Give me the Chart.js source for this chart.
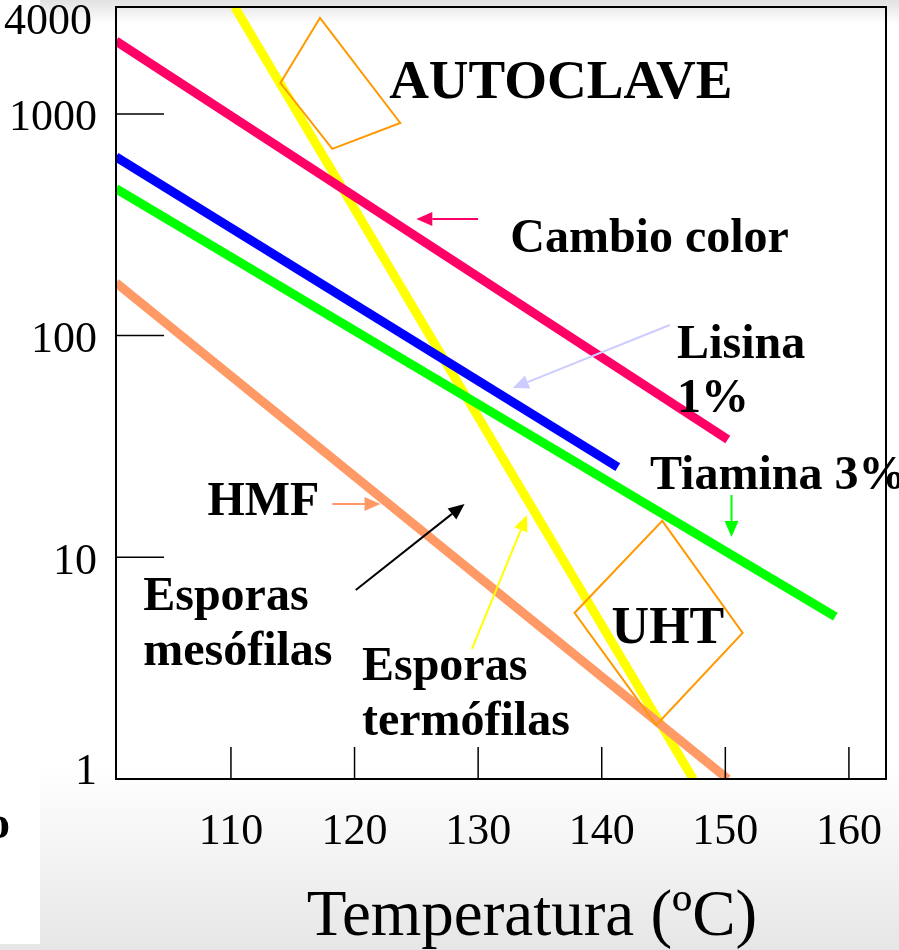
<!DOCTYPE html>
<html>
<head>
<meta charset="utf-8">
<script src="https://cdn.jsdelivr.net/npm/chart.js@4"></script>
<style>
  body { margin: 0; background: #fff; }
  #wrap { position: relative; width: 899px; height: 950px; overflow: hidden; }
  .band { position: absolute; left: 40px; right: 0; }
  #top { top: 0; height: 24px; background: linear-gradient(#e2e2e2, #fff); }
  #bottom { top: 768px; bottom: 0; background: linear-gradient(#fff, #e6e6e6); }
  #foot { position: absolute; left: 0; width: 40px; top: 944px; bottom: 0; background: #e6e6e6; }
  #box { position: absolute; left: 0; top: 0; width: 899px; height: 950px; }
</style>
</head>
<body>
<div id="wrap">
  <div class="band" id="top"></div>
  <div class="band" id="bottom"></div>
  <div id="foot"></div>
  <div id="box"><canvas id="chart-lines"></canvas></div>
</div>
<script>
// ticks
var xTicks = [110, 120, 130, 140, 150, 160];
var yTicks = [1, 10, 100, 1000];
var yTopLabel = "4000";
var xTitle = "Temperatura (ºC)";

// each line: temperatures (ºC) and times at its two ends
var cambioT = [100.7, 150.2];
var cambioVal = [2130, 34];
var lisinaT = [100.7, 141.3];
var lisinaVal = [640, 25.5];
var tiaminaT = [100.7, 158.9];
var tiaminaVal = [460, 5.4];
var hmfT = [100.7, 150.2];
var hmfVal = [173, 1];
var termoT = [110.3, 147.4];
var termoVal = [3035, 1];

function pts(t, v) {
  return t.map(function (x, i) { return { x: x, y: v[i] }; });
}

// annotations, placed in data units (ºC, tiempo)
var notes = [
  { text: "AUTOCLAVE", at: [122.8, 1179], size: 55 },
  { text: "Cambio color", at: [132.6, 238], size: 48 },
  { text: "Lisina", at: [146.1, 79], size: 48 },
  { text: "1%", at: [146.1, 45.2], size: 48 },
  { text: "Tiamina 3%", at: [143.9, 20.3], size: 48 },
  { text: "HMF", at: [108.1, 15.5], size: 48 },
  { text: "Esporas", at: [102.9, 5.78], size: 48 },
  { text: "mesófilas", at: [102.9, 3.27], size: 48 },
  { text: "Esporas", at: [120.6, 2.8], size: 48 },
  { text: "termófilas", at: [120.6, 1.58], size: 48 },
  { text: "UHT", at: [140.8, 4.11], size: 52 },
];
var arrows = [
  { from: [130.0, 336], to: [125.0, 336], color: "#ff0066" },
  { from: [145.5, 111.6], to: [132.8, 58], color: "#ccccff" },
  { from: [150.5, 19.1], to: [150.5, 12.35], color: "#00ff00" },
  { from: [118.2, 17.4], to: [122.1, 17.4], color: "#ff9966" },
  { from: [120.1, 7.12], to: [128.9, 17.4], color: "#000000" },
  { from: [129.5, 3.86], to: [133.95, 15.5], color: "#ffff00" },
];
var diamonds = [
  [[117.2, 2709], [123.7, 910], [118.2, 695], [114.0, 1378]],
  [[144.9, 14.6], [151.4, 4.56], [144.4, 1.75], [137.8, 5.61]],
];

function px(chart, p) {
  return [chart.scales.x.getPixelForValue(p[0]), chart.scales.y.getPixelForValue(p[1])];
}

function drawArrow(ctx, a, b, color) {
  var ang = Math.atan2(b[1] - a[1], b[0] - a[0]);
  var hl = 16, hw = 7;
  var c = Math.cos(ang), s = Math.sin(ang);
  ctx.strokeStyle = color;
  ctx.fillStyle = color;
  ctx.lineWidth = 2;
  ctx.beginPath();
  ctx.moveTo(a[0], a[1]);
  ctx.lineTo(b[0] - hl * c, b[1] - hl * s);
  ctx.stroke();
  ctx.beginPath();
  ctx.moveTo(b[0], b[1]);
  ctx.lineTo(b[0] - hl * c + hw * s, b[1] - hl * s - hw * c);
  ctx.lineTo(b[0] - hl * c - hw * s, b[1] - hl * s + hw * c);
  ctx.closePath();
  ctx.fill();
}

var serif = '"Liberation Serif", "Times New Roman", serif';

var decor = {
  id: "decor",
  afterDatasetsDraw: function (chart) {
    var ctx = chart.ctx;
    var a = chart.chartArea;
    var xs = chart.scales.x, ys = chart.scales.y;
    ctx.save();

    // frame
    ctx.strokeStyle = "#000";
    ctx.lineWidth = 2;
    ctx.strokeRect(a.left, a.top, a.right - a.left, a.bottom - a.top);

    // inner ticks
    ctx.lineWidth = 1.5;
    yTicks.forEach(function (v) {
      if (v === ys.min) return;
      var y = ys.getPixelForValue(v);
      ctx.beginPath(); ctx.moveTo(a.left, y); ctx.lineTo(a.left + 48, y); ctx.stroke();
    });
    xTicks.forEach(function (v) {
      var x = xs.getPixelForValue(v);
      ctx.beginPath(); ctx.moveTo(x, a.bottom); ctx.lineTo(x, a.bottom - 32); ctx.stroke();
    });

    // y labels
    ctx.fillStyle = "#000";
    ctx.font = "44px " + serif;
    ctx.textAlign = "right";
    ctx.textBaseline = "middle";
    yTicks.forEach(function (v) {
      var y = ys.getPixelForValue(v);
      ctx.fillText(String(v), a.left - 19, v === ys.min ? y - 7 : y + 5);
    });
    ctx.fillText(yTopLabel, a.left - 24, ys.getPixelForValue(ys.max) + 15);

    // x axis title, sits a bit right of centre in the original
    ctx.textAlign = "center";
    ctx.textBaseline = "alphabetic";
    ctx.font = "65px " + serif;
    ctx.fillText(xTitle, (a.left + a.right) / 2 + 31, xs.bottom - 15);

    // diamonds
    ctx.strokeStyle = "#ff9900";
    ctx.lineWidth = 2;
    diamonds.forEach(function (d) {
      ctx.beginPath();
      d.forEach(function (p, i) {
        var q = px(chart, p);
        if (i === 0) ctx.moveTo(q[0], q[1]); else ctx.lineTo(q[0], q[1]);
      });
      ctx.closePath();
      ctx.stroke();
    });

    // arrows
    arrows.forEach(function (ar) {
      drawArrow(ctx, px(chart, ar.from), px(chart, ar.to), ar.color);
    });

    // labels
    ctx.fillStyle = "#000";
    ctx.textAlign = "left";
    ctx.textBaseline = "alphabetic";
    notes.forEach(function (n) {
      var q = px(chart, n.at);
      ctx.font = "bold " + n.size + "px " + serif;
      ctx.fillText(n.text, q[0], q[1]);
    });

    // cut-off letter at the left edge
    ctx.font = "bold 46px " + serif;
    ctx.fillText("o", -13, 838);
    ctx.restore();
  },
};

var ctx = document.getElementById("chart-lines").getContext("2d");

new Chart(ctx, {
  type: "line",
  data: {
    datasets: [
      { label: "Cambio color", data: pts(cambioT, cambioVal), borderColor: "#ff0066", order: 1 },
      { label: "Lisina 1%", data: pts(lisinaT, lisinaVal), borderColor: "#0000ff", order: 2 },
      { label: "Tiamina 3%", data: pts(tiaminaT, tiaminaVal), borderColor: "#00ff00", order: 3 },
      { label: "HMF", data: pts(hmfT, hmfVal), borderColor: "#ff9966", order: 4 },
      { label: "Esporas termófilas", data: pts(termoT, termoVal), borderColor: "#ffff00", order: 5 },
    ],
  },
  options: {
    responsive: true,
    maintainAspectRatio: false,
    animation: false,
    events: [],
    layout: { padding: { left: 116, top: 7, right: 13, bottom: 0 } },
    elements: {
      line: { borderWidth: 9, tension: 0, borderCapStyle: "butt", fill: false },
      point: { radius: 0 },
    },
    plugins: {
      legend: { display: false },
      tooltip: { enabled: false },
    },
    scales: {
      x: {
        type: "linear",
        min: 100.7,
        max: 163,
        afterBuildTicks: function (scale) {
          scale.ticks = xTicks.map(function (v) { return { value: v }; });
        },
        afterFit: function (scale) {
          scale.height = 171;
          scale.paddingLeft = 0;
          scale.paddingRight = 0;
        },
        grid: { display: false, drawTicks: false },
        border: { display: false },
        ticks: {
          autoSkip: false,
          maxRotation: 0,
          padding: 27,
          color: "#000",
          font: { family: serif, size: 44 },
        },
      },
      y: {
        type: "logarithmic",
        display: false,
        min: 1,
        max: 3035,
      },
    },
  },
  plugins: [decor],
});
</script>
</body>
</html>
